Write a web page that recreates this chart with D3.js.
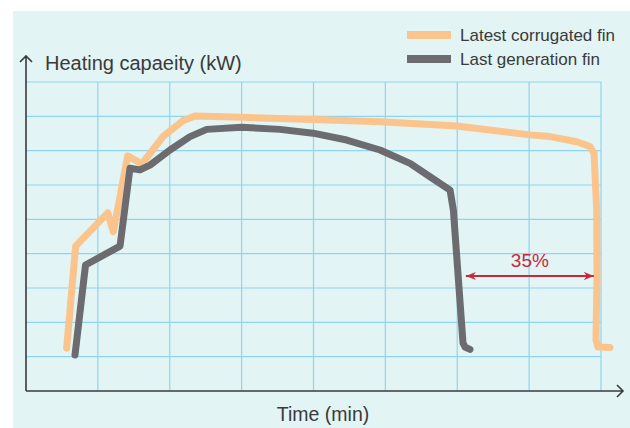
<html lang="en">
<head>
    <meta charset="utf-8">
    <title>Heating capacity</title>
    <script type="text/javascript" src="https://cdn.jsdelivr.net/npm/d3@7"></script>
    <style type="text/css">
        body { margin: 0; background: #ffffff; }
        text { font-family: "Liberation Sans", Arial, Helvetica, sans-serif; }
    </style>
</head>
<body>
<script type="text/javascript">
    // values (time in min, capacity in kW, no labelled ticks)
    var seriesNames = ["Latest corrugated fin", "Last generation fin"];
    var newFin = [
        [5.66, 1.25], [6.91, 4.22], [11.37, 5.19], [12.15, 4.64], [14.15, 6.85],
        [16.10, 6.61], [19.06, 7.41], [21.84, 7.87], [23.51, 8.01], [30.01, 7.97],
        [39.93, 7.91], [49.25, 7.84], [59.92, 7.72], [70.12, 7.46], [72.90, 7.41],
        [76.62, 7.26], [78.47, 7.12], [79.03, 6.93], [79.40, 5.27], [79.44, 3.23],
        [79.30, 1.49], [79.58, 1.28], [81.25, 1.27]
    ];
    var oldFin = [
        [6.82, 1.05], [8.28, 3.67], [13.08, 4.22], [14.47, 6.49], [15.86, 6.44],
        [17.25, 6.58], [20.03, 7.02], [22.82, 7.41], [25.14, 7.62], [30.01, 7.68],
        [35.34, 7.62], [39.93, 7.51], [44.62, 7.31], [49.25, 7.02], [53.43, 6.63],
        [56.21, 6.24], [59.00, 5.85], [59.46, 5.27], [60.80, 1.40], [61.08, 1.28],
        [61.77, 1.21]
    ];
    var xGrid = [10, 20, 30, 40, 50, 60, 70, 80];
    var yGrid = [1, 2, 3, 4, 5, 6, 7, 8, 9];
    var gapFrom = 61.2, gapTo = 79.0, gapAt = 3.35, gapLabel = "35%";

    var w = 630, h = 428;
    var orange = "#fcc48d", grey = "#6c6c70", red = "#c8283c", ink = "#3a3a3a";

    var x = d3.scaleLinear().domain([0, 80]).range([26, 601]);
    var y = d3.scaleLinear().domain([0, 9]).range([391, 82]);

    var svg = d3.select("body").append("svg")
            .attr("width", w)
            .attr("height", h);

    svg.append("rect")
            .attr("x", 13).attr("y", 11)
            .attr("width", w - 13).attr("height", h - 11)
            .attr("fill", "#e2f4f4");

    // grid
    svg.append("g").selectAll("line")
            .data(xGrid)
            .enter().append("line")
            .attr("x1", function(d){ return x(d); })
            .attr("x2", function(d){ return x(d); })
            .attr("y1", y(0))
            .attr("y2", y(9))
            .attr("stroke", "#8fd4f0")
            .attr("stroke-width", 1.2);
    svg.append("g").selectAll("line")
            .data(yGrid)
            .enter().append("line")
            .attr("x1", x(0))
            .attr("x2", x(80))
            .attr("y1", function(d){ return y(d); })
            .attr("y2", function(d){ return y(d); })
            .attr("stroke", "#8fd4f0")
            .attr("stroke-width", 1.2);

    // axes with open arrow heads
    var axisPath = d3.path();
    axisPath.moveTo(x(0), y(0)); axisPath.lineTo(x(0), 56);
    axisPath.moveTo(x(0) - 6, 62); axisPath.lineTo(x(0), 56); axisPath.lineTo(x(0) + 6, 62);
    axisPath.moveTo(x(0), y(0)); axisPath.lineTo(623, y(0));
    axisPath.moveTo(617, y(0) - 6); axisPath.lineTo(623, y(0)); axisPath.lineTo(617, y(0) + 6);
    svg.append("path")
            .attr("d", axisPath.toString())
            .attr("fill", "none")
            .attr("stroke", ink)
            .attr("stroke-width", 1.6);

    var line = d3.line()
            .x(function(d){ return x(d[0]); })
            .y(function(d){ return y(d[1]); });

    svg.selectAll("path.series")
            .data([newFin, oldFin])
            .enter().append("path")
            .attr("class", "series")
            .attr("d", line)
            .attr("fill", "none")
            .attr("stroke", function(d, i){ return i == 0 ? orange : grey; })
            .attr("stroke-width", 7)
            .attr("stroke-linejoin", "round")
            .attr("stroke-linecap", "round");

    // 35% gap arrow
    var defs = svg.append("defs");
    ["start", "end"].forEach(function(k){
        defs.append("marker")
                .attr("id", "arr-" + k)
                .attr("viewBox", "0 0 10 8")
                .attr("refX", 10).attr("refY", 4)
                .attr("markerWidth", 10).attr("markerHeight", 8)
                .attr("markerUnits", "userSpaceOnUse")
                .attr("orient", k == "start" ? "auto-start-reverse" : "auto")
                .append("path")
                .attr("d", "M0,0 L10,4 L0,8 L3,4 Z")
                .attr("fill", red);
    });
    svg.append("line")
            .attr("x1", x(gapFrom)).attr("x2", x(gapTo))
            .attr("y1", y(gapAt)).attr("y2", y(gapAt))
            .attr("stroke", red)
            .attr("stroke-width", 2)
            .attr("marker-start", "url(#arr-start)")
            .attr("marker-end", "url(#arr-end)");
    svg.append("text")
            .text(gapLabel)
            .attr("x", (x(gapFrom) + x(gapTo)) / 2)
            .attr("y", y(gapAt) - 9)
            .attr("text-anchor", "middle")
            .attr("font-size", "19px")
            .attr("fill", red);

    // titles
    svg.append("text")
            .text("Heating capaeity (kW)")
            .attr("x", 45).attr("y", 70)
            .attr("font-size", "20px")
            .attr("fill", ink);
    svg.append("text")
            .text("Time (min)")
            .attr("x", 323).attr("y", 421)
            .attr("text-anchor", "middle")
            .attr("font-size", "19.5px")
            .attr("fill", ink);

    // legend
    var legend = svg.selectAll("g.legend")
            .data(seriesNames)
            .enter().append("g")
            .attr("class", "legend")
            .attr("transform", function(d, i){ return "translate(0," + (i * 24) + ")"; });
    legend.append("line")
            .attr("x1", 407).attr("x2", 451)
            .attr("y1", 35).attr("y2", 35)
            .attr("stroke", function(d, i){ return i == 0 ? orange : grey; })
            .attr("stroke-width", 8);
    legend.append("text")
            .text(function(d){ return d; })
            .attr("x", 460).attr("y", 41)
            .attr("font-size", "17px")
            .attr("fill", ink);
</script>
</body>
</html>
